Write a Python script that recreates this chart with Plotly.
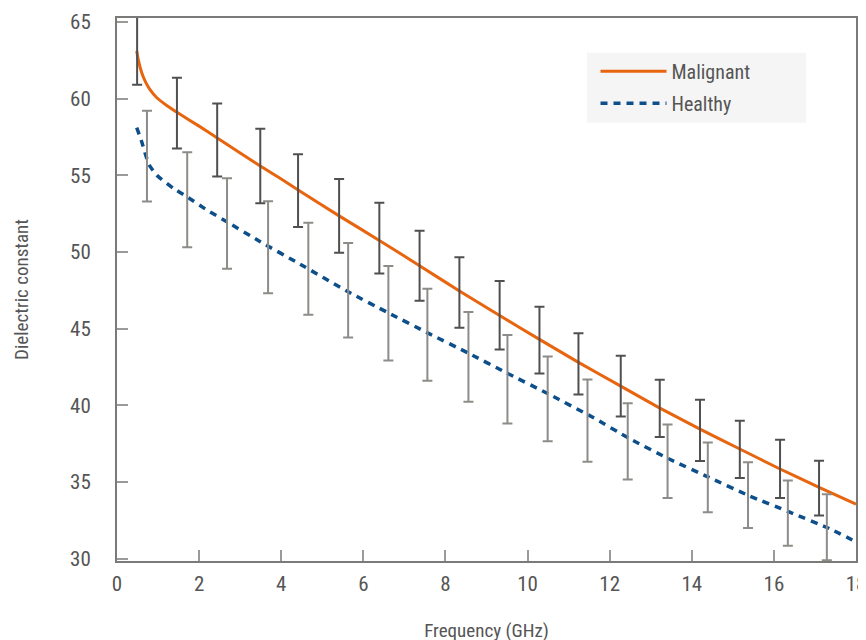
import plotly.graph_objects as go

# Curves
malig_x = [0.48, 0.52, 0.6, 0.7, 0.8, 0.97, 1.21, 1.49, 2.0, 2.46, 3.0, 3.49, 4.0, 4.46, 5.41, 6.39,
           7.37, 8.34, 9.32, 10.29, 11.24, 12.27, 13.2, 14.2, 15.17, 16.15, 17.1, 18.0]
malig_y = [63.1, 62.5, 61.7, 61.05, 60.6, 60.05, 59.55, 59.05, 58.2, 57.4, 56.45, 55.6, 54.75, 53.95,
           52.35, 50.75, 49.1, 47.45, 45.85, 44.3, 42.8, 41.25, 39.85, 38.45, 37.15, 35.85, 34.65, 33.55]

healthy_x = [0.48, 0.6, 0.7, 0.8, 0.97, 1.37, 1.7, 2.18, 2.59, 3.5, 4.46, 5.63, 6.6, 7.55, 8.56, 9.5,
             10.5, 11.6, 12.47, 13.45, 14.42, 15.4, 16.37, 17.35, 18.0]
healthy_y = [58.1, 57.2, 56.3, 55.6, 55.0, 54.15, 53.6, 52.75, 52.1, 50.65, 49.2, 47.4, 46.04, 44.74,
             43.4, 42.1, 40.75, 39.2, 37.85, 36.5, 35.3, 34.1, 33.05, 31.97, 31.1]

# Error-bar measurements
malig_bar_x = [0.49, 1.46, 2.44, 3.49, 4.41, 5.41, 6.39, 7.37, 8.34, 9.32, 10.29, 11.24, 12.27,
               13.22, 14.2, 15.17, 16.15, 17.1]
malig_bar_y = [63.15, 59.05, 57.3, 55.6, 54.0, 52.35, 50.9, 49.1, 47.36, 45.87, 44.25, 42.7, 41.25,
               39.8, 38.37, 37.13, 35.85, 34.6]
malig_bar_err = [2.25, 2.3, 2.38, 2.43, 2.37, 2.4, 2.3, 2.28, 2.3, 2.23, 2.17, 2.0, 1.98, 1.87, 2.0,
                 1.87, 1.9, 1.78]

healthy_bar_x = [0.73, 1.71, 2.68, 3.68, 4.66, 5.63, 6.61, 7.56, 8.56, 9.51, 10.49, 11.46, 12.44,
                 13.41, 14.39, 15.37, 16.34, 17.29]
healthy_bar_y = [56.25, 53.4, 51.85, 50.3, 48.9, 47.5, 46.0, 44.6, 43.16, 41.7, 40.42, 39.0, 37.65,
                 36.35, 35.3, 34.14, 32.97, 32.05]
healthy_bar_err = [2.96, 3.1, 2.95, 3.0, 3.0, 3.08, 3.08, 3.0, 2.92, 2.88, 2.76, 2.68, 2.48, 2.4,
                   2.27, 2.14, 2.13, 2.15]

x_ticks = [0, 2, 4, 6, 8, 10, 12, 14, 16, 18]
y_ticks = [30, 35, 40, 45, 50, 55, 60, 65]

FONT = "Liberation Sans Narrow, Roboto Condensed, DejaVu Sans Condensed, Arial Narrow, sans-serif"
ORANGE = "#E8650F"
BLUE = "#0D4F8A"
DARK = "#505050"
LIGHT = "#8E8C88"
AXIS = "#7a7a78"
TEXT = "#555555"

fig = go.Figure()
fig.add_trace(go.Scatter(x=malig_x, y=malig_y, mode="lines", name="Malignant", legendgroup="m",
                         line=dict(color=ORANGE, width=3, shape="spline", smoothing=0.5)))
fig.add_trace(go.Scatter(x=healthy_x, y=healthy_y, mode="lines", name="Healthy", legendgroup="h",
                         line=dict(color=BLUE, width=3.5, dash="7px,6px", shape="spline", smoothing=0.5)))
fig.add_trace(go.Scatter(x=healthy_bar_x, y=healthy_bar_y, mode="markers", showlegend=False,
                         marker=dict(size=0, opacity=0), hoverinfo="skip",
                         error_y=dict(type="data", array=healthy_bar_err, visible=True,
                                      color=LIGHT, thickness=2, width=5)))
fig.add_trace(go.Scatter(x=malig_bar_x, y=malig_bar_y, mode="markers", showlegend=False,
                         marker=dict(size=0, opacity=0), hoverinfo="skip",
                         error_y=dict(type="data", array=malig_bar_err, visible=True,
                                      color=DARK, thickness=2, width=5)))

# legend background panel
fig.add_shape(type="rect", xref="paper", yref="paper", x0=0.636, x1=0.9323, y0=0.8073, y1=0.9358,
              fillcolor="#f5f5f5", line=dict(width=0), layer="above")

fig.update_layout(
    width=866, height=640,
    margin=dict(l=109, r=18, t=8, b=87),
    paper_bgcolor="white", plot_bgcolor="white",
    font=dict(family=FONT, size=21, color=TEXT),
    showlegend=True,
    legend=dict(x=0.6475, y=0.9377, xanchor="left", yanchor="top",
                bgcolor="rgba(0,0,0,0)", borderwidth=0,
                font=dict(family=FONT, size=20, color=TEXT),
                itemwidth=66, tracegroupgap=3),
)
fig.update_xaxes(range=[0, 18], tickvals=x_ticks, ticktext=[str(v) for v in x_ticks],
                 showgrid=False, zeroline=False, automargin=True,
                 showline=True, linecolor=AXIS, linewidth=2, mirror=True,
                 ticks="inside", ticklen=11, tickwidth=1.5, tickcolor="#9a9a98",
                 ticklabelstandoff=3,
                 tickfont=dict(family=FONT, size=21, color=TEXT),
                 title=dict(text="Frequency (GHz)", standoff=28,
                            font=dict(family=FONT, size=19, color=TEXT)))
fig.update_yaxes(range=[29.85, 65.25], tickvals=y_ticks, ticktext=[str(v) for v in y_ticks],
                 showgrid=False, zeroline=False, automargin=False,
                 showline=True, linecolor=AXIS, linewidth=2, mirror=True,
                 ticks="inside", ticklen=11, tickwidth=1.5, tickcolor="#9a9a98",
                 ticklabelstandoff=20,
                 tickfont=dict(family=FONT, size=21, color=TEXT),
                 title=dict(text="Dielectric constant", standoff=36,
                            font=dict(family=FONT, size=19, color=TEXT)))

fig.write_html("out.html")
